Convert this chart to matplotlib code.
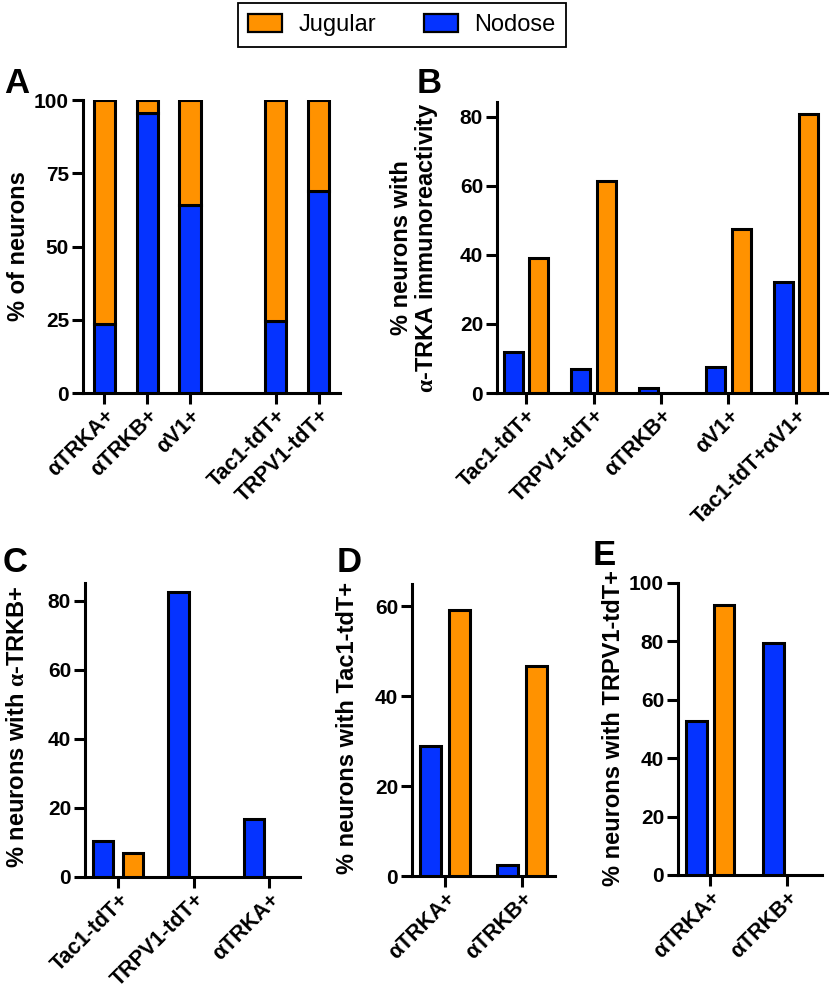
import numpy as np
import matplotlib
matplotlib.use("Agg")
import matplotlib.pyplot as plt
from matplotlib.patches import Patch

plt.rcParams["font.family"] = ["Liberation Sans", "DejaVu Sans"]
plt.rcParams["font.weight"] = "bold"
plt.rcParams["mathtext.fontset"] = "custom"
plt.rcParams["mathtext.rm"] = "Liberation Serif"

JUG = "#FF9200"
NOD = "#0533FF"

# panel A: stacked share of neurons
a_labels = ["αTRKA+", "αTRKB+", "αV1+", "Tac1-tdT+", "TRPV1-tdT+"]
a_pos = [0, 1, 2, 4, 5]
a_nodose = [23.5, 95.5, 64, 24.5, 69]
a_jugular = [100 - v for v in a_nodose]

# panel B: % with a-TRKA
b_labels = ["Tac1-tdT+", "TRPV1-tdT+", "αTRKB+", "αV1+", "Tac1-tdT+αV1+"]
b_nodose = [11.8, 7.0, 1.5, 7.5, 32.1]
b_jugular = [39.1, 61.3, 0, 47.6, 80.9]

# panel C: % with a-TRKB
c_labels = ["Tac1-tdT+", "TRPV1-tdT+", "αTRKA+"]
c_nodose = [10.3, 82.7, 16.8]
c_jugular = [7.1, 0, 0]

# panel D: % with Tac1-tdT
d_labels = ["αTRKA+", "αTRKB+"]
d_nodose = [28.9, 2.4]
d_jugular = [59.1, 46.7]

# panel E: % with TRPV1-tdT
e_labels = ["αTRKA+", "αTRKB+"]
e_nodose = [52.8, 79.3]
e_jugular = [92.5, 0]

W, H = 831, 992
fig = plt.figure(figsize=(W / 100, H / 100), dpi=100)

LW = 2.2
TICK_FS = 15
XTICK_FS = 15.5
LABEL_FS = 17


def make_ax(left, right, top, bottom):
    ax = fig.add_axes([left / W, 1 - bottom / H, (right - left) / W, (bottom - top) / H])
    for s in ["top", "right"]:
        ax.spines[s].set_visible(False)
    for s in ["left", "bottom"]:
        ax.spines[s].set_linewidth(LW)
    ax.tick_params(axis="both", direction="out", length=8, width=LW,
                   labelsize=TICK_FS, pad=2)
    ax.tick_params(axis="x", pad=1)
    return ax


def style_xticks(ax, pos, labels):
    ax.set_xticks(pos)
    ax.set_xticklabels(labels, rotation=45, ha="right", va="top",
                       rotation_mode="anchor", fontweight="bold", fontsize=XTICK_FS)
    for t in ax.get_yticklabels():
        t.set_fontweight("bold")


def grouped(ax, nodose, jugular, width, off):
    x = np.arange(len(nodose))
    for xi, v in zip(x, nodose):
        if v > 0:
            ax.bar(xi - off, v, width, color=NOD, edgecolor="black", linewidth=LW, zorder=3)
    for xi, v in zip(x, jugular):
        if v > 0:
            ax.bar(xi + off, v, width, color=JUG, edgecolor="black", linewidth=LW, zorder=3)
    return x


# A
axA = make_ax(83, 340, 100, 393)
axA.bar(a_pos, a_nodose, 0.5, color=NOD, edgecolor="black", linewidth=LW, zorder=3)
axA.bar(a_pos, a_jugular, 0.5, bottom=a_nodose, color=JUG, edgecolor="black",
        linewidth=LW, zorder=3)
axA.set_xlim(-0.5, 5.5)
axA.set_ylim(0, 100)
axA.set_yticks([0, 25, 50, 75, 100])
style_xticks(axA, a_pos, a_labels)

# B
axB = make_ax(497, 827, 102, 393)
xb = grouped(axB, b_nodose, b_jugular, 0.28, 0.19)
axB.set_xlim(-0.43, 4.46)
axB.set_ylim(0, 84.3)
axB.set_yticks([0, 20, 40, 60, 80])
style_xticks(axB, xb, b_labels)

# C
axC = make_ax(85, 300, 583, 877)
xc = grouped(axC, c_nodose, c_jugular, 0.27, 0.2)
axC.set_xlim(-0.44, 2.41)
axC.set_ylim(0, 85.2)
axC.set_yticks([0, 20, 40, 60, 80])
style_xticks(axC, xc, c_labels)

# D
axD = make_ax(412, 555, 584, 876)
xd = grouped(axD, d_nodose, d_jugular, 0.27, 0.19)
axD.set_xlim(-0.43, 1.43)
axD.set_ylim(0, 64.9)
axD.set_yticks([0, 20, 40, 60])
style_xticks(axD, xd, d_labels)

# E
axE = make_ax(678, 822, 583, 875)
xe = grouped(axE, e_nodose, e_jugular, 0.27, 0.18)
axE.set_xlim(-0.42, 1.455)
axE.set_ylim(0, 100)
axE.set_yticks([0, 20, 40, 60, 80, 100])
style_xticks(axE, xe, e_labels)

# y labels
fig.text(19 / W, 1 - 246 / H, "% of neurons", rotation=90, ha="center", va="center",
         fontsize=LABEL_FS, fontweight="bold")
fig.text(415 / W, 1 - 248 / H, "% neurons with\n$\\mathrm{\\alpha}$-TRKA immunoreactivity",
         rotation=90, ha="center", va="center", fontsize=LABEL_FS, fontweight="bold",
         linespacing=1.0)
fig.text(18 / W, 1 - 727 / H, "% neurons with $\\mathrm{\\alpha}$-TRKB+", rotation=90,
         ha="center", va="center", fontsize=LABEL_FS, fontweight="bold")
fig.text(348 / W, 1 - 728 / H, "% neurons with Tac1-tdT+", rotation=90,
         ha="center", va="center", fontsize=LABEL_FS, fontweight="bold")
fig.text(614 / W, 1 - 728 / H, "% neurons with TRPV1-tdT+", rotation=90,
         ha="center", va="center", fontsize=LABEL_FS, fontweight="bold")

# panel letters
for letter, x, y in [("A", 4, 93), ("B", 417, 93), ("C", 3, 572),
                     ("D", 337, 572), ("E", 593, 565)]:
    fig.text(x / W, 1 - y / H, letter, fontsize=25, fontweight="bold",
             ha="left", va="baseline")

# legend
handles = [Patch(facecolor=JUG, edgecolor="black", linewidth=1.6, label="Jugular"),
           Patch(facecolor=NOD, edgecolor="black", linewidth=1.6, label="Nodose")]
leg = fig.legend(handles=handles, loc="center", bbox_to_anchor=(402 / W, 1 - 25 / H),
                 ncol=2, frameon=True, fancybox=False, edgecolor="black", framealpha=1,
                 prop={"size": 17, "weight": "normal"}, handlelength=1.45,
                 handleheight=0.8, handletextpad=0.7, columnspacing=2.0,
                 borderpad=0.45, borderaxespad=0)
leg.get_frame().set_linewidth(1.3)

fig.savefig("out.png", dpi=100)
